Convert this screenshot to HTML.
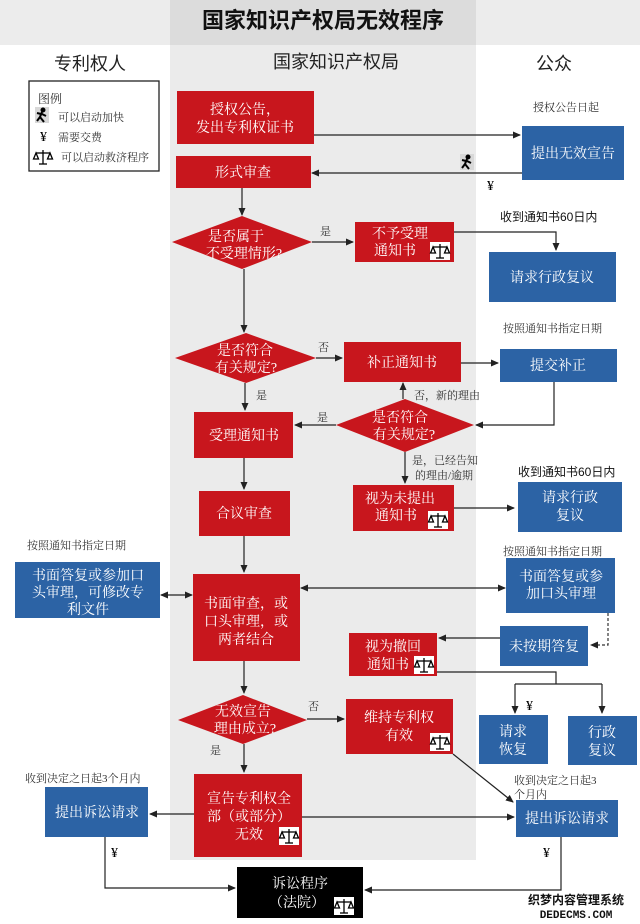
<!DOCTYPE html>
<html><head><meta charset="utf-8"><style>
html,body{margin:0;padding:0;background:#fff}
svg{display:block}
.t{font-family:"Liberation Serif","Noto Serif CJK SC",serif;fill:#fff;font-size:14px;text-anchor:middle}
.s{font-family:"Liberation Serif","Noto Serif CJK SC",serif;fill:#333;font-size:11px}
.b{font-family:"Liberation Sans","Noto Sans CJK SC",sans-serif;fill:#111;font-size:11px}
.h{font-family:"Liberation Sans","Noto Sans CJK SC",sans-serif;fill:#222;font-size:18px;text-anchor:middle}
.r{fill:#c8161d}
.bl{fill:#2c63a5}
.ln{stroke:#222;stroke-width:1.2;fill:none}
</style></head><body>
<svg width="640" height="924" viewBox="0 0 640 924" xmlns="http://www.w3.org/2000/svg">
<defs>
<marker id="a" markerWidth="8" markerHeight="8" refX="7" refY="4" orient="auto" markerUnits="userSpaceOnUse"><path d="M0,0.5 L8,4 L0,7.5z" fill="#222"/></marker>
<marker id="a0" markerWidth="8" markerHeight="8" refX="1" refY="4" orient="auto" markerUnits="userSpaceOnUse"><path d="M8,0.5 L0,4 L8,7.5z" fill="#222"/></marker>
<g id="sc"><rect x="0" y="0" width="20" height="18" fill="#fff"/><g stroke="#000" stroke-width="1.3" fill="none"><line x1="10" y1="2" x2="10" y2="16"/><line x1="3" y1="5" x2="17" y2="5"/><line x1="6" y1="16" x2="14" y2="16"/><path d="M3,5 L0.5,11 L5.5,11z M17,5 L14.5,11 L19.5,11z"/></g></g>
<g id="rn"><rect x="0" y="0" width="14" height="16" fill="#d8d8d8"/><g stroke="#000" stroke-width="2" fill="none"><circle cx="8" cy="3" r="1.5" fill="#000"/><path d="M7,5 L5,10 L9,15 M5,10 L2,14 M6,7 L2,6 M7,7 L11,9"/></g></g>
</defs>
<rect x="0" y="0" width="640" height="45" fill="#ececec"/>
<rect x="170" y="0" width="306" height="860" fill="#ebebeb"/>
<rect x="170" y="0" width="306" height="45" fill="#dcdcdc"/>
<text x="323" y="28" style="font-family:'Liberation Sans','Noto Sans CJK SC',sans-serif;font-weight:bold;font-size:22px;text-anchor:middle;fill:#111">国家知识产权局无效程序</text>
<text class="h" x="90" y="70">专利权人</text>
<text class="h" x="336" y="68">国家知识产权局</text>
<text class="h" x="554" y="70">公众</text>
<rect x="29" y="81" width="130" height="90" fill="#fff" stroke="#222" stroke-width="1.3"/>
<text class="s" x="38" y="103" style="font-size:12px">图例</text>
<use href="#rn" x="35" y="107"/><text class="s" x="58" y="121">可以启动加快</text>
<text class="s" x="40" y="141" style="font-size:14px;fill:#000">¥</text><text class="s" x="58" y="141">需要交费</text>
<use href="#sc" x="33" y="148"/><text class="s" x="61" y="161">可以启动救济程序</text>

<!-- row 1 -->
<rect class="r" x="177" y="91" width="137" height="53"/>
<text class="t" x="245" y="114">授权公告，</text><text class="t" x="245" y="132">发出专利权证书</text>
<text class="s" x="533" y="111">授权公告日起</text>
<rect class="bl" x="522" y="126" width="102" height="54"/>
<text class="t" x="573" y="158">提出无效宣告</text>
<line class="ln" x1="314" y1="135" x2="520" y2="135" marker-end="url(#a)"/>
<rect class="r" x="176" y="156" width="135" height="32"/>
<text class="t" x="243" y="177">形式审查</text>
<line class="ln" x1="522" y1="173" x2="312" y2="173" marker-end="url(#a)"/>
<use href="#rn" x="460" y="154"/>
<text class="s" x="487" y="190" style="font-size:14px;fill:#000">¥</text>
<line class="ln" x1="242" y1="188" x2="242" y2="215" marker-end="url(#a)"/>
<polygon class="r" points="242,216 312,242 242,269 172,242"/>
<text class="t" x="236" y="241">是否属于</text><text class="t" x="244" y="258">不受理情形?</text>
<text class="s" x="320" y="235">是</text>
<line class="ln" x1="312" y1="242" x2="353" y2="242" marker-end="url(#a)"/>
<rect class="r" x="355" y="222" width="99" height="40"/>
<text class="t" x="400" y="238">不予受理</text><text class="t" x="395" y="255">通知书</text>
<use href="#sc" x="430" y="242"/>
<text class="b" x="500" y="221" style="font-size:12px">收到通知书60日内</text>
<polyline class="ln" points="454,232 556,232 556,250" marker-end="url(#a)"/>
<rect class="bl" x="489" y="252" width="127" height="50"/>
<text class="t" x="552" y="282">请求行政复议</text>
<line class="ln" x1="244" y1="269" x2="244" y2="332" marker-end="url(#a)"/>

<!-- row 2 -->
<polygon class="r" points="246,333 316,358 246,383 175,358"/>
<text class="t" x="245" y="355">是否符合</text><text class="t" x="246" y="372">有关规定?</text>
<text class="s" x="318" y="351">否</text>
<line class="ln" x1="316" y1="358" x2="342" y2="358" marker-end="url(#a)"/>
<rect class="r" x="344" y="342" width="117" height="40"/>
<text class="t" x="402" y="367">补正通知书</text>
<text class="s" x="503" y="332">按照通知书指定日期</text>
<line class="ln" x1="461" y1="363" x2="498" y2="363" marker-end="url(#a)"/>
<rect class="bl" x="500" y="349" width="117" height="33"/>
<text class="t" x="558" y="370">提交补正</text>
<polyline class="ln" points="554,382 554,425 476,425" marker-end="url(#a)"/>
<polygon class="r" points="405,399 474,425 405,452 336,425"/>
<text class="t" x="400" y="422">是否符合</text><text class="t" x="404" y="439">有关规定?</text>
<line class="ln" x1="403" y1="399" x2="403" y2="383" marker-end="url(#a)"/>
<text class="s" x="414" y="399">否，新的理由</text>
<text class="s" x="317" y="421">是</text>
<line class="ln" x1="336" y1="425" x2="295" y2="425" marker-end="url(#a)"/>
<text class="s" x="256" y="399">是</text>
<line class="ln" x1="245" y1="383" x2="245" y2="410" marker-end="url(#a)"/>
<rect class="r" x="194" y="412" width="99" height="46"/>
<text class="t" x="244" y="440">受理通知书</text>
<line class="ln" x1="244" y1="458" x2="244" y2="489" marker-end="url(#a)"/>
<rect class="r" x="199" y="491" width="91" height="45"/>
<text class="t" x="244" y="518">合议审查</text>
<line class="ln" x1="405" y1="452" x2="405" y2="483" marker-end="url(#a)"/>
<text class="s" x="412" y="464">是，已经告知</text><text class="s" x="415" y="479">的理由/逾期</text>
<rect class="r" x="353" y="485" width="101" height="46"/>
<text class="t" x="400" y="503">视为未提出</text><text class="t" x="396" y="520">通知书</text>
<use href="#sc" x="428" y="511"/>
<line class="ln" x1="454" y1="508" x2="514" y2="508" marker-end="url(#a)"/>
<text class="b" x="518" y="476" style="font-size:12px">收到通知书60日内</text>
<rect class="bl" x="518" y="482" width="104" height="50"/>
<text class="t" x="570" y="502">请求行政</text><text class="t" x="570" y="520">复议</text>

<!-- row 3 -->
<line class="ln" x1="244" y1="536" x2="244" y2="572" marker-end="url(#a)"/>
<text class="s" x="27" y="549">按照通知书指定日期</text>
<rect class="bl" x="15" y="562" width="145" height="56"/>
<text class="t" x="88" y="580">书面答复或参加口</text><text class="t" x="88" y="597">头审理，可修改专</text><text class="t" x="88" y="614">利文件</text>
<line class="ln" x1="161" y1="595" x2="192" y2="595" marker-start="url(#a0)" marker-end="url(#a)"/>
<rect class="r" x="193" y="574" width="107" height="87"/>
<text class="t" x="246" y="608">书面审查，或</text><text class="t" x="246" y="626">口头审理，或</text><text class="t" x="246" y="644">两者结合</text>
<text class="s" x="503" y="555">按照通知书指定日期</text>
<rect class="bl" x="506" y="558" width="109" height="55"/>
<text class="t" x="561" y="581">书面答复或参</text><text class="t" x="561" y="598">加口头审理</text>
<line class="ln" x1="301" y1="588" x2="505" y2="588" marker-start="url(#a0)" marker-end="url(#a)"/>
<polyline points="608,613 608,645 591,645" fill="none" stroke="#333" stroke-width="1.2" stroke-dasharray="3,2" marker-end="url(#a)"/>
<rect class="bl" x="500" y="626" width="88" height="40"/>
<text class="t" x="544" y="651">未按期答复</text>
<line class="ln" x1="500" y1="638" x2="439" y2="638" marker-end="url(#a)"/>
<rect class="r" x="349" y="633" width="88" height="43"/>
<text class="t" x="393" y="651">视为撤回</text><text class="t" x="388" y="669">通知书</text>
<use href="#sc" x="414" y="656"/>
<polyline class="ln" points="437,672 556,672 556,684"/>
<line class="ln" x1="515" y1="684" x2="602" y2="684"/>
<line class="ln" x1="515" y1="684" x2="515" y2="713" marker-end="url(#a)"/>
<line class="ln" x1="602" y1="684" x2="602" y2="713" marker-end="url(#a)"/>
<text class="s" x="526" y="710" style="font-size:14px;fill:#000">¥</text>
<rect class="bl" x="479" y="715" width="69" height="49"/>
<text class="t" x="513" y="736">请求</text><text class="t" x="513" y="754">恢复</text>
<rect class="bl" x="568" y="716" width="69" height="49"/>
<text class="t" x="602" y="737">行政</text><text class="t" x="602" y="755">复议</text>

<!-- row 4 -->
<line class="ln" x1="244" y1="661" x2="244" y2="693" marker-end="url(#a)"/>
<polygon class="r" points="243,695 307,720 243,744 178,720"/>
<text class="t" x="243" y="716">无效宣告</text><text class="t" x="245" y="733">理由成立?</text>
<text class="s" x="308" y="710">否</text>
<line class="ln" x1="307" y1="719" x2="344" y2="719" marker-end="url(#a)"/>
<rect class="r" x="346" y="699" width="107" height="55"/>
<text class="t" x="399" y="722">维持专利权</text><text class="t" x="399" y="740">有效</text>
<use href="#sc" x="430" y="733"/>
<line class="ln" x1="453" y1="754" x2="513" y2="802" marker-end="url(#a)"/>
<text class="s" x="210" y="754">是</text>
<line class="ln" x1="244" y1="744" x2="244" y2="772" marker-end="url(#a)"/>
<rect class="r" x="194" y="774" width="108" height="83"/>
<text class="t" x="249" y="803">宣告专利权全</text><text class="t" x="249" y="821">部（或部分）</text><text class="t" x="249" y="839">无效</text>
<use href="#sc" x="279" y="827"/>
<text class="s" x="25" y="782">收到决定之日起3个月内</text>
<rect class="bl" x="45" y="787" width="103" height="50"/>
<text class="t" x="97" y="817">提出诉讼请求</text>
<line class="ln" x1="194" y1="814" x2="150" y2="814" marker-end="url(#a)"/>
<line class="ln" x1="302" y1="817" x2="514" y2="817" marker-end="url(#a)"/>
<text class="s" x="514" y="784">收到决定之日起3</text><text class="s" x="514" y="798">个月内</text>
<rect class="bl" x="516" y="800" width="102" height="37"/>
<text class="t" x="567" y="823">提出诉讼请求</text>
<text class="s" x="111" y="857" style="font-size:14px;fill:#000">¥</text>
<polyline class="ln" points="105,837 105,888 235,888" marker-end="url(#a)"/>
<text class="s" x="543" y="857" style="font-size:14px;fill:#000">¥</text>
<polyline class="ln" points="561,837 561,890 365,890" marker-end="url(#a)"/>
<rect x="237" y="867" width="126" height="51" fill="#000"/>
<text class="t" x="300" y="888">诉讼程序</text><text class="t" x="297" y="907">（法院）</text>
<use href="#sc" x="334" y="897"/>
<text x="576" y="904" style="font-family:'Liberation Sans','Noto Sans CJK SC',sans-serif;font-size:12px;font-weight:bold;text-anchor:middle;fill:#111">织梦内容管理系统</text>
<text x="576" y="918" style="font-family:'Liberation Mono',monospace;font-size:11px;font-weight:bold;text-anchor:middle;fill:#111">DEDECMS.COM</text>
</svg>
</body></html>
